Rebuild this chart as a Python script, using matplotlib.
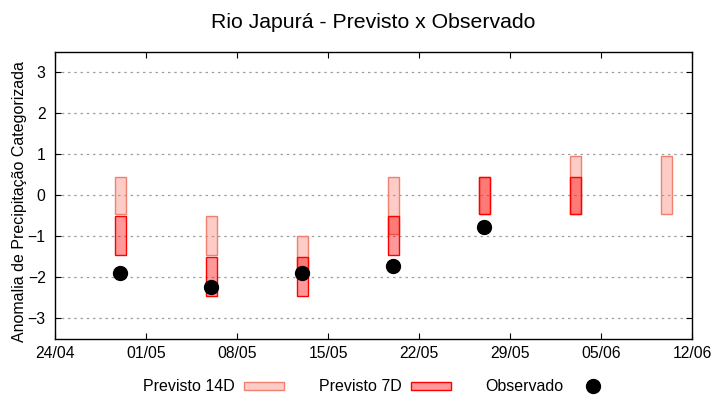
import datetime as dt

import matplotlib
matplotlib.use("Agg")
import matplotlib.pyplot as plt
import matplotlib.dates as mdates
from matplotlib.lines import Line2D
from matplotlib.patches import Patch

plt.rcParams["font.family"] = ["Liberation Sans", "DejaVu Sans"]

# Previsto 14 dias (faixa min/max da categoria)
datas_14d = ["2023-04-29", "2023-05-06", "2023-05-13", "2023-05-20",
             "2023-05-27", "2023-06-03", "2023-06-10"]
min_14d = [-0.45, -1.45, -1.95, -0.95, -0.45, -0.45, -0.45]
max_14d = [0.45, -0.5, -1.0, 0.45, 0.45, 0.95, 0.95]

# Previsto 7 dias
datas_7d = ["2023-04-29", "2023-05-06", "2023-05-13", "2023-05-20",
            "2023-05-27", "2023-06-03"]
min_7d = [-1.45, -2.45, -2.45, -1.45, -0.45, -0.45]
max_7d = [-0.5, -1.5, -1.5, -0.5, 0.45, 0.45]

# Observado
datas_obs = ["2023-04-29", "2023-05-06", "2023-05-13", "2023-05-20", "2023-05-27"]
observado = [-1.9, -2.23, -1.9, -1.71, -0.76]

xticks = ["2023-04-24", "2023-05-01", "2023-05-08", "2023-05-15",
          "2023-05-22", "2023-05-29", "2023-06-05", "2023-06-12"]


def to_date(lst):
    return [dt.datetime.strptime(d, "%Y-%m-%d") for d in lst]


fig = plt.figure(figsize=(7.2, 4.0), dpi=100)
ax = fig.add_axes([0.077, 0.1525, 0.8845, 0.7185])

cor14_face = (250 / 255, 128 / 255, 114 / 255, 0.4)
cor7_face = (1.0, 0.0, 0.0, 0.4)

h14 = [a - b for a, b in zip(max_14d, min_14d)]
ax.bar(to_date(datas_14d), h14, bottom=min_14d, width=0.88,
       color=cor14_face, edgecolor="#f08070", linewidth=1.0, zorder=2)

h7 = [a - b for a, b in zip(max_7d, min_7d)]
ax.bar(to_date(datas_7d), h7, bottom=min_7d, width=0.88,
       color=cor7_face, edgecolor="#ff0000", linewidth=1.0, zorder=3)

ax.plot(to_date(datas_obs), observado, "o", color="black", markersize=10, zorder=4)

ax.set_ylim(-3.5, 3.5)
ax.set_yticks([-3, -2, -1, 0, 1, 2, 3])
xt = to_date(xticks)
ax.set_xlim(xt[0], xt[-1])
ax.set_xticks(xt)
ax.xaxis.set_major_formatter(mdates.DateFormatter("%d/%m"))

ax.grid(axis="y", linestyle=(0, (2, 3)), color="#a0a0a0", linewidth=0.9, zorder=0)
ax.tick_params(direction="in", length=4, top=True, right=True, labelsize=11.3,
               colors="black")
ax.tick_params(axis="x", pad=5)
ax.tick_params(axis="y", pad=7)
for s in ax.spines.values():
    s.set_linewidth(1.0)

ax.set_ylabel("Anomalia de Precipitação Categorizada", fontsize=11.5)
ax.yaxis.set_label_coords(-0.044, 0.479)
fig.suptitle("Rio Japurá - Previsto x Observado", fontsize=15.3, x=0.518, y=0.967)

handles = [
    Patch(facecolor=cor14_face, edgecolor="#f08070", linewidth=1.0),
    Patch(facecolor=cor7_face, edgecolor="#ff0000", linewidth=1.0),
    Line2D([], [], marker="o", color="black", linestyle="none", markersize=10),
]
fig.legend(handles, ["Previsto 14D", "Previsto 7D", "Observado"],
           loc="center", bbox_to_anchor=(0.525, 0.033), ncol=3, frameon=False,
           markerfirst=False, fontsize=11.5, handlelength=2.5, handleheight=0.4,
           columnspacing=2.2, handletextpad=0.55)

fig.savefig("out.png", dpi=100)
